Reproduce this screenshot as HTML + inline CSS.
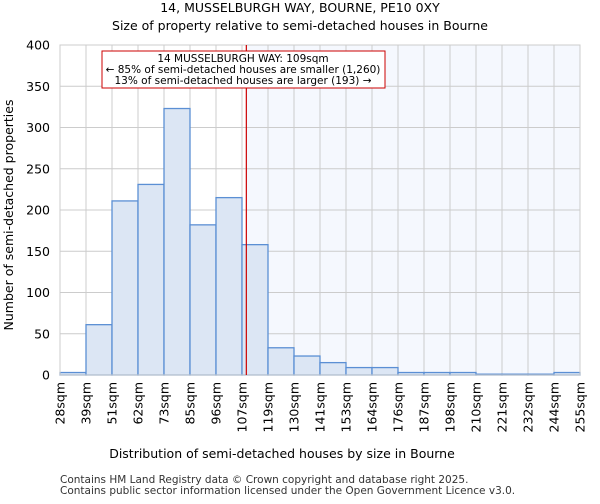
<!DOCTYPE html>
<html><head><meta charset="utf-8"><style>
body{margin:0;background:#fff;font-family:"DejaVu Sans","Liberation Sans",sans-serif;}
</style></head><body>
<svg width="600" height="500" xmlns="http://www.w3.org/2000/svg" font-family="DejaVu Sans, Liberation Sans, sans-serif">
<text x="300" y="12" text-anchor="middle" font-size="12.5">14, MUSSELBURGH WAY, BOURNE, PE10 0XY</text>
<text x="300" y="30" text-anchor="middle" font-size="12.5">Size of property relative to semi-detached houses in Bourne</text>
<g id="plot"></g>
<text x="282" y="458" text-anchor="middle" font-size="12.5">Distribution of semi-detached houses by size in Bourne</text>
<text transform="translate(13,215) rotate(-90)" text-anchor="middle" font-size="12.5">Number of semi-detached properties</text>
<text x="60" y="483" font-size="10.5" fill="#333">Contains HM Land Registry data © Crown copyright and database right 2025.</text>
<text x="60" y="494" font-size="10.5" fill="#333">Contains public sector information licensed under the Open Government Licence v3.0.</text>
</svg>
<script>
const binLabels=["28sqm","39sqm","51sqm","62sqm","73sqm","85sqm","96sqm","107sqm","119sqm","130sqm","141sqm","153sqm","164sqm","176sqm","187sqm","198sqm","210sqm","221sqm","232sqm","244sqm","255sqm"];
const binEdges=[28,39,51,62,73,85,96,107,119,130,141,153,164,176,187,198,210,221,232,244,255];
const counts=[3,61,211,231,323,182,215,158,33,23,15,9,9,3,3,3,1,1,1,3];
const yTicks=[0,50,100,150,200,250,300,350,400];
const subjectSize=109;
const NS="http://www.w3.org/2000/svg";
const g=document.getElementById('plot');
const L=60,R=580,T=45,B=375,n=counts.length,bw=(R-L)/n;
const y=v=>B-(v/400)*(B-T);
const xi=i=>L+i*bw;
function xv(v){for(let i=0;i<binEdges.length-1;i++){if(v<=binEdges[i+1])return xi(i)+bw*(v-binEdges[i])/(binEdges[i+1]-binEdges[i]);}return R;}
function mk(t,a){const e=document.createElementNS(NS,t);for(const k in a)e.setAttribute(k,a[k]);g.appendChild(e);return e;}
const sx=xv(subjectSize);
let e=mk('rect',{x:sx,y:T,width:R-sx,height:B-T,fill:'#f5f8fe'});


for(let i=0;i<=n;i++){e=mk('line',{x1:xi(i),x2:xi(i),y1:T,y2:B,stroke:'#cccccc'});

}
yTicks.forEach(v=>{e=mk('line',{x1:L,x2:R,y1:y(v),y2:y(v),stroke:'#cccccc'});


const t=mk('text',{x:L-10,y:y(v)+4.5,'text-anchor':'end','font-size':'12.5'});t.textContent=v;

});
counts.forEach((c,i)=>{const r=mk('rect',{x:xi(i),y:y(c),width:bw,height:B-y(c),fill:'#dce6f4',stroke:'#5b8fd4','stroke-width':1.3});

});
binLabels.forEach((l,i)=>{const t=mk('text',{transform:`translate(${xi(i)+4.5},382) rotate(-90)`,'text-anchor':'end','font-size':'12.5'});t.textContent=l;

});
e=mk('rect',{x:L,y:T,width:R-L,height:B-T,fill:'none',stroke:'#cccccc'});


e=mk('line',{x1:sx,x2:sx,y1:T,y2:B,stroke:'#cc0000','stroke-width':1.2});


e=mk('rect',{x:102,y:51,width:283,height:37,fill:'#fff',stroke:'#cc0000'});


["14 MUSSELBURGH WAY: 109sqm","← 85% of semi-detached houses are smaller (1,260)","13% of semi-detached houses are larger (193) →"].forEach((s,i)=>{const t=mk('text',{x:243,y:62+i*11,'text-anchor':'middle','font-size':'10.5'});t.textContent=s;

});
</script>
</body></html>
